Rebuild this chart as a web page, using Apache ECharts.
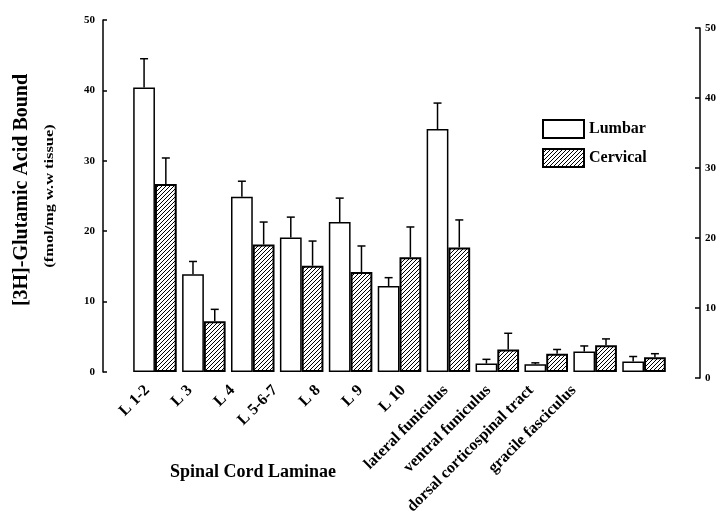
<!DOCTYPE html>
<html>
<head>
<meta charset="utf-8">
<script src="https://cdn.jsdelivr.net/npm/echarts@6/dist/echarts.min.js"></script>
<style>html,body{margin:0;padding:0;background:#fff;}#c{width:725px;height:526px;}</style>
</head>
<body>
<div id="c"></div>
<script>
const categories = ['L 1-2','L 3','L 4','L 5-6-7','L 8','L 9','L 10','lateral funiculus','ventral funiculus','dorsal corticospinal tract','gracile fasciculus'];
const lumbar = [40.4,13.9,24.9,19.1,21.3,12.2,34.5,1.2,1.1,2.9,1.5];
const lumbarUpper = [44.5,15.7,27.1,22.0,24.7,13.4,38.2,1.8,1.3,3.7,2.2];
const cervical = [26.7,7.2,18.1,15.1,14.2,16.3,17.7,3.2,2.6,3.8,2.1];
const cervicalUpper = [30.4,8.9,21.3,18.6,17.9,20.6,21.6,5.5,3.2,4.7,2.6];
const yTicks = [0,10,20,30,40,50];

const FONT = 'Liberation Serif';
// hatch pattern
const pc = document.createElement('canvas');
pc.width = 4; pc.height = 4;
const g = pc.getContext('2d');
g.fillStyle = '#fff'; g.fillRect(0,0,4,4);
g.strokeStyle = '#000'; g.lineWidth = 1;
g.beginPath();
g.moveTo(-1,5); g.lineTo(5,-1);
g.moveTo(-1,1); g.lineTo(1,-1);
g.moveTo(3,5); g.lineTo(5,3);
g.stroke();

const gapFrac = 0.11;
function errRender(sign){
  return function(params, api){
    const idx = api.value(0);
    const top = api.coord([idx, api.value(1)]);
    const base = api.coord([idx, api.value(2)]);
    const band = api.size([1,0])[0];
    const cx = top[0] + sign * band * (1 - gapFrac) / 4;
    const cap = 4;
    return {type:'group', children:[
      {type:'line', shape:{x1:cx,y1:base[1],x2:cx,y2:top[1]}, style:{stroke:'#000', lineWidth:1.5}},
      {type:'line', shape:{x1:cx-cap,y1:top[1],x2:cx+cap,y2:top[1]}, style:{stroke:'#000', lineWidth:1.5}}
    ]};
  };
}

const chart = echarts.init(document.getElementById('c'), null, {renderer:'canvas'});
chart.setOption({
  animation:false,
  backgroundColor:'#fff',
  grid:[
    {left:130.5, right:56.5, top:20, bottom:154},
    {left:130.5, right:25, top:28, bottom:148},
    {left:126, right:130, top:20, bottom:154}
  ],
  legend:{
    orient:'vertical', left:537, top:114, itemWidth:41, itemHeight:18, itemGap:9,
    icon:'rect',
    data:['Lumbar','Cervical'],
    textStyle:{fontFamily:FONT, fontWeight:'bold', fontSize:16, color:'#000'}
  },
  title:{
    text:'Spinal Cord Laminae', left:165, top:458,
    textStyle:{fontFamily:FONT, fontWeight:'bold', fontSize:18, color:'#000'}
  },
  graphic:[
    {type:'text', x:22, y:190, rotation:Math.PI/2, style:{text:'[3H]-Glutamic Acid Bound', font:'bold 20px "Liberation Serif"', fill:'#000', textAlign:'center', textVerticalAlign:'middle'}},
    {type:'text', x:50, y:196, rotation:Math.PI/2, scaleX:1.26, style:{text:'(fmol/mg w.w tissue)', font:'bold 13px "Liberation Serif"', fill:'#000', textAlign:'center', textVerticalAlign:'middle'}}
  ],
  xAxis:[
    {type:'category', gridIndex:0, data:categories,
     axisLine:{show:false}, axisTick:{show:false}, axisLabel:{show:false}},
    {type:'category', gridIndex:1, data:categories, show:false},
    {type:'category', gridIndex:2, data:categories,
     axisLine:{show:false}, axisTick:{show:false},
     axisLabel:{rotate:45, margin:16, interval:0, fontFamily:FONT, fontWeight:'bold', fontSize:16, color:'#000'}}
  ],
  yAxis:[
    {type:'value', gridIndex:0, min:0, max:50, interval:10, offset:27.5,
     axisLine:{show:true, lineStyle:{color:'#000', width:1.5}},
     axisTick:{show:true, inside:true, length:4, lineStyle:{color:'#000', width:1.5}},
     splitLine:{show:false},
     axisLabel:{margin:8, fontFamily:FONT, fontWeight:'bold', fontSize:11, color:'#000'}},
    {type:'value', gridIndex:1, position:'right', min:0, max:50, interval:10,
     axisLine:{show:true, lineStyle:{color:'#000', width:1.5}},
     axisTick:{show:true, inside:true, length:5, lineStyle:{color:'#000', width:1.5}},
     splitLine:{show:false},
     axisLabel:{margin:5, fontFamily:FONT, fontWeight:'bold', fontSize:11, color:'#000'}},
    {type:'value', gridIndex:2, min:0, max:50, show:false}
  ],
  series:[
    {name:'Lumbar', type:'bar', xAxisIndex:0, yAxisIndex:0, data:lumbar,
     barGap:'0%', barCategoryGap:(gapFrac*100)+'%',
     itemStyle:{color:'#fff', borderColor:'#000', borderWidth:1.5}},
    {name:'Cervical', type:'bar', xAxisIndex:0, yAxisIndex:0, data:cervical,
     barGap:'0%', barCategoryGap:(gapFrac*100)+'%',
     itemStyle:{color:{image:pc, repeat:'repeat'}, borderColor:'#000', borderWidth:2}},
    {type:'custom', xAxisIndex:0, yAxisIndex:0, z:5, renderItem:errRender(-1),
     data:categories.map((c,i)=>[i, lumbarUpper[i], lumbar[i]]), encode:{x:0,y:1}},
    {type:'custom', xAxisIndex:0, yAxisIndex:0, z:5, renderItem:errRender(1),
     data:categories.map((c,i)=>[i, cervicalUpper[i], cervical[i]]), encode:{x:0,y:1}}
  ]
});
</script>
</body>
</html>
